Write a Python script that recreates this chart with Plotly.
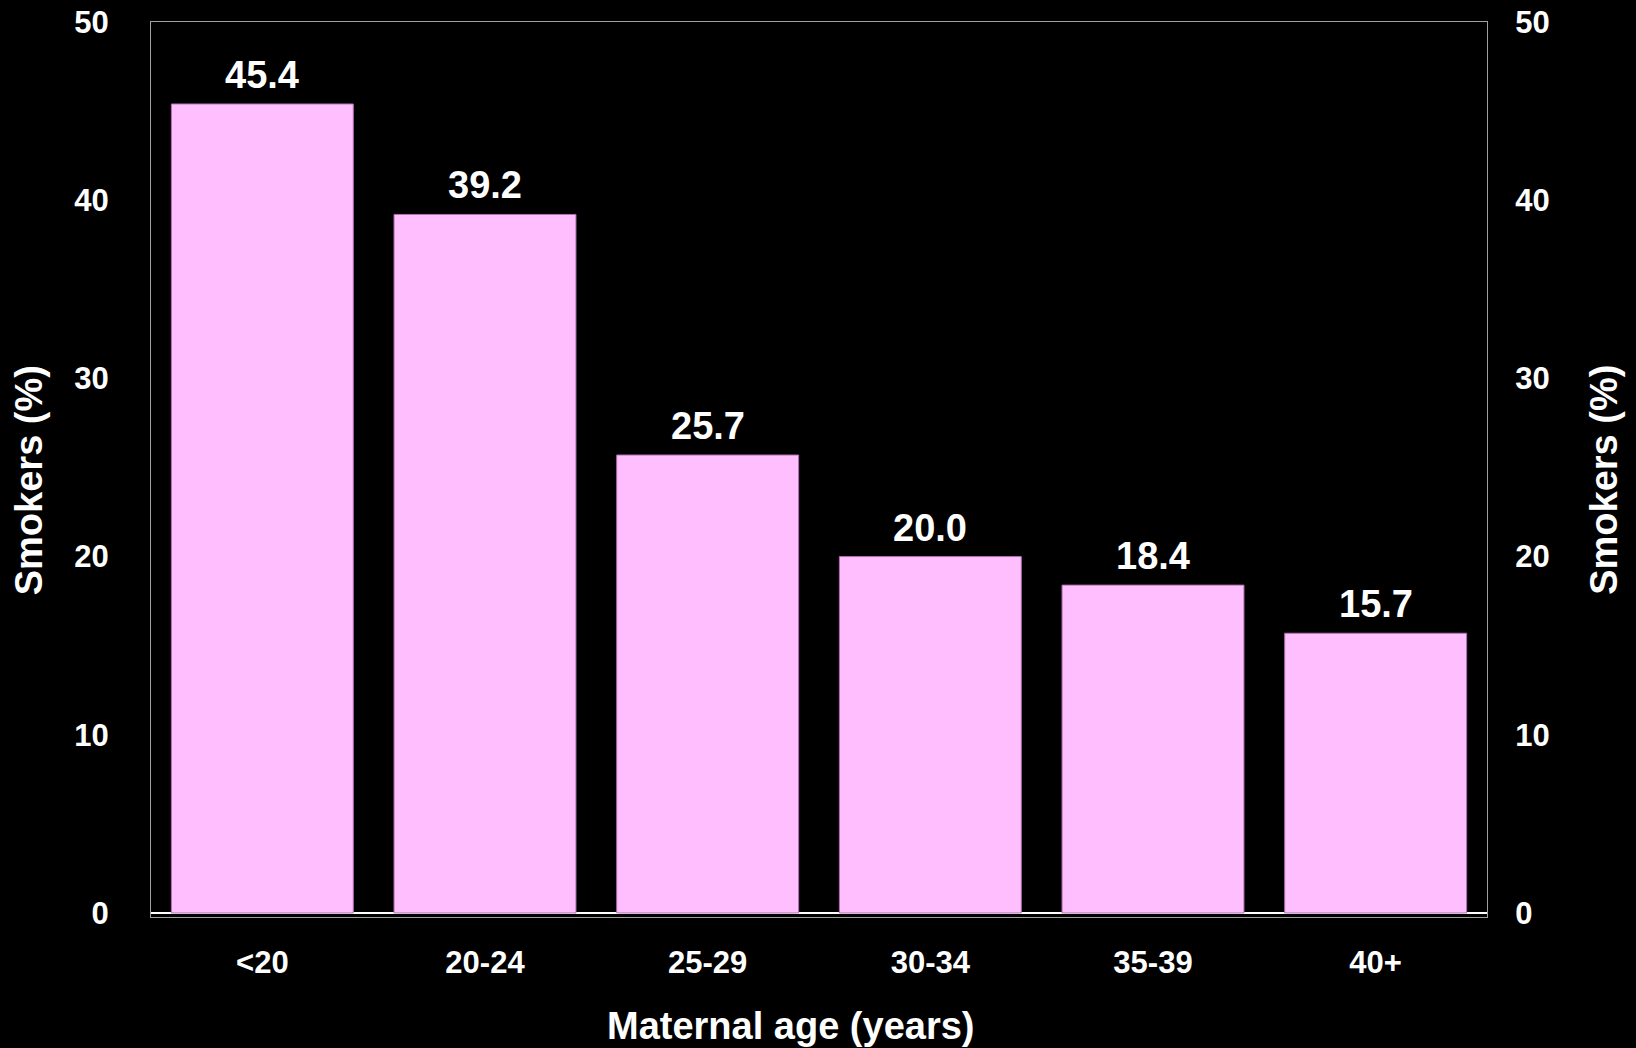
import plotly.graph_objects as go

categories = ["<20", "20-24", "25-29", "30-34", "35-39", "40+"]
smokers_pct = [45.4, 39.2, 25.7, 20.0, 18.4, 15.7]
y_ticks = [0, 10, 20, 30, 40, 50]

FONT = "Liberation Sans, Arial, sans-serif"
WHITE = "#FFFFFF"

fig = go.Figure()
fig.add_trace(go.Bar(
    x=categories, y=smokers_pct,
    marker=dict(color="#FFBFFF", line=dict(color="#B070B0", width=1)),
    hoverinfo="skip", showlegend=False,
))
# invisible companion trace so the mirrored right-hand axis is drawn
fig.add_trace(go.Scatter(
    x=categories, y=smokers_pct, yaxis="y2", mode="markers",
    marker=dict(opacity=0), hoverinfo="skip", showlegend=False,
))

for c, v in zip(categories, smokers_pct):
    fig.add_annotation(x=c, y=v, text=f"{v:.1f}", showarrow=False,
                       yanchor="bottom", yshift=6,
                       font=dict(family=FONT, size=38, color=WHITE, weight="bold"))

axis_font = dict(family=FONT, size=31, color=WHITE, weight="bold")
yr = [-0.225, 50]

fig.update_layout(
    width=1636, height=1048,
    paper_bgcolor="black", plot_bgcolor="black",
    margin=dict(l=151, r=149, t=22, b=131, autoexpand=False),
    bargap=0.183,
    xaxis=dict(
        type="category", range=[-0.5, 5.5],
        showline=True, linecolor="#A0A0A0", linewidth=1, mirror=True,
        ticks="outside", ticklen=18, tickcolor="black",
        tickfont=axis_font, showgrid=False, zeroline=False,
    ),
    yaxis=dict(
        range=yr, tickvals=y_ticks,
        showline=True, linecolor="#A0A0A0", linewidth=1, mirror=True,
        ticks="outside", ticklen=35, tickcolor="black",
        tickfont=axis_font, showgrid=False,
        zeroline=True, zerolinecolor=WHITE, zerolinewidth=1.5,
    ),
    yaxis2=dict(
        range=yr, tickvals=y_ticks, overlaying="y", side="right",
        showline=False, ticks="outside", ticklen=21, tickcolor="black",
        tickfont=axis_font, showgrid=False, zeroline=False,
    ),
)

title_font = dict(family=FONT, size=38, color=WHITE, weight="bold")
fig.add_annotation(text="Maternal age (years)", xref="paper", yref="paper",
                   x=0.479, y=-0.122, xanchor="center", yanchor="middle",
                   showarrow=False, font=title_font)
fig.add_annotation(text="Smokers (%)", xref="paper", yref="paper",
                   x=-0.0913, y=0.488, xanchor="center", yanchor="middle",
                   textangle=-90, showarrow=False, font=title_font)
fig.add_annotation(text="Smokers (%)", xref="paper", yref="paper",
                   x=1.088, y=0.488, xanchor="center", yanchor="middle",
                   textangle=-90, showarrow=False, font=title_font)

fig.write_html(
    "out.html",
    config={"displayModeBar": False},
    post_script="document.body.style.margin='0';document.body.style.background='black';",
)
